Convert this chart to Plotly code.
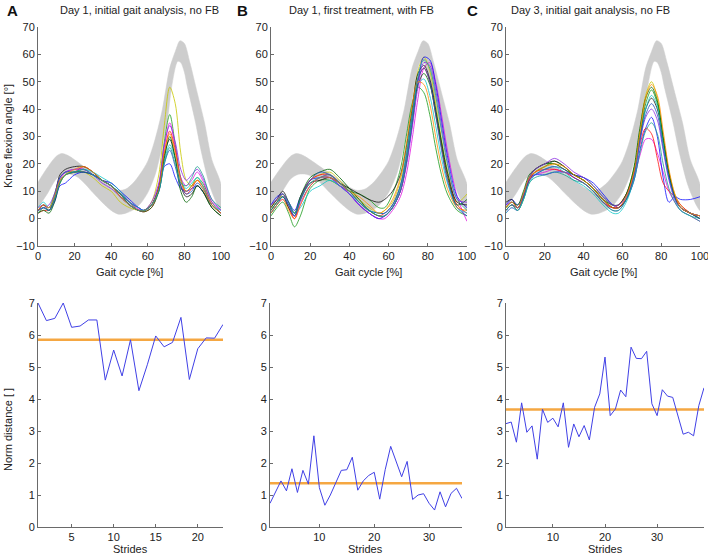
import plotly.graph_objects as go

# ---------------- data ----------------
gait_pct = [0, 3, 6, 9, 12, 15, 20, 25, 30, 35, 40, 45, 50, 55, 58, 62, 66, 69, 72, 75, 78, 81, 84, 87, 90, 95, 100]

band_x_up = [0, 5, 10, 13, 16, 20, 25, 30, 35, 40, 44, 48, 52, 56, 60, 64, 68, 72, 75, 77.6, 80, 83, 87, 91, 95, 100]
band_upper = [13.3, 18.5, 22.8, 23.8, 23.2, 21.5, 19, 16.5, 14, 11.5, 10.3, 10.8, 13, 16.5, 21, 29, 40, 55, 61, 65, 64, 57, 46, 35, 21.5, 12.5]
band_x_lo = [0, 5, 10, 14, 18, 22, 26, 30, 35, 40, 44, 48, 52, 56, 60, 64, 67, 70.7, 73, 76.3, 78, 80, 81.6, 85.8, 89.4, 94, 98.5, 100]
band_lower = [4, 9, 14.5, 16.2, 16.2, 15, 12.5, 9.5, 6, 3, 1.6, 2, 3.2, 5.5, 9.5, 16, 24, 36, 48, 57.4, 57, 53.5, 48.2, 36, 24, 11.7, 4.4, 3]

curves_A = [
    [2, 4, 3, 8, 13, 16, 17, 17, 15, 12, 10, 6, 4, 3, 3, 6, 16, 34, 48, 42, 24, 14, 12, 14, 12, 5, 2],
    [3, 5, 4, 9, 15, 17, 17, 18, 16, 14, 12, 9, 6, 3, 3, 5, 12, 28, 38, 27, 15, 10, 12, 15, 13, 6, 2],
    [4, 5, 4, 7, 14, 17, 18, 18, 16, 14, 13, 10, 6, 3.5, 3, 5, 12, 26, 35, 26, 15, 12, 14, 17, 14, 6, 3],
    [3, 4, 3, 6, 12, 13, 16, 17, 16, 14, 13, 10, 7, 4, 3, 5, 11, 19, 20, 15, 11, 10, 11, 12, 10, 5, 2],
    [2, 3, 3, 7, 14, 16, 17, 19, 17, 14, 12, 9, 5, 3, 2.5, 4, 11, 24, 32, 25, 14, 9, 11, 14, 12, 5, 2],
    [3, 5, 3, 8, 16, 18, 19, 19, 17, 14, 12, 8, 5, 3, 3, 5, 11, 23, 29, 22, 12, 8, 9, 12, 10, 4, 1],
    [4, 6, 4, 8, 14, 16, 17, 18, 17, 15, 13, 10, 6, 4, 3, 5, 10, 21, 27, 22, 14, 11, 13, 15, 12, 5, 3],
    [2, 3, 2, 6, 13, 16, 17, 17, 16, 14, 12, 9, 5, 3, 2.5, 4, 10, 22, 30, 22, 10, 6, 8, 12, 10, 4, 1],
    [3, 4, 5, 9, 15, 17, 18, 18, 16, 13, 11, 8, 5, 3, 3, 6, 13, 27, 34, 28, 18, 14, 16, 18, 15, 7, 3],
    [3, 4, 3, 7, 15, 17, 17, 17, 16, 14, 12, 9, 6, 4, 3, 5, 10, 20, 25, 19, 12, 9, 10, 13, 11, 5, 2],
    [3, 5, 4, 8, 14, 16, 18, 19, 17, 14, 12, 8, 5, 3, 3, 5, 11, 24, 31, 24, 14, 10, 12, 14, 11, 5, 2],
    [2, 4, 3, 7, 13, 16, 17, 18, 16, 14, 12, 9, 5, 3, 3, 5, 10, 20, 26, 20, 13, 12, 15, 19, 16, 7, 4],
]
curves_B = [
    [4, 7, 8, 5, 2, 8, 14, 16, 17, 14, 10, 7, 4, 2, 3, 6, 14, 25, 40, 54, 59, 54, 42, 29, 18, 6, 9],
    [1, 4, 6, 2, -3, 1, 11, 14, 14, 12, 10, 9, 7, 4, 4, 9, 18, 30, 42, 48, 46, 38, 26, 16, 9, 3, 1],
    [2, 5, 7, 4, 0, 5, 12, 15, 16, 13, 9, 5, 2, 0, 0, 3, 8, 16, 29, 44, 55, 57, 50, 38, 25, 8, -1],
    [5, 8, 9, 6, 3, 8, 14, 15, 15, 12, 9, 5, 2, 0, 1, 4, 10, 20, 34, 50, 59, 58, 49, 36, 23, 8, 4],
    [3, 6, 9, 4, 0, 7, 14, 16, 16, 13, 10, 6, 3, 1, 2, 5, 12, 23, 38, 51, 55, 50, 38, 26, 15, 5, 2],
    [4, 7, 10, 6, 2, 7, 13, 14, 15, 13, 11, 9, 7, 6, 7, 10, 16, 26, 40, 53, 56, 51, 40, 28, 17, 6, 5],
    [2, 5, 8, 5, 2, 4, 10, 12, 14, 12, 9, 6, 3, 2, 2, 5, 12, 24, 38, 49, 51, 45, 34, 22, 13, 4, 2],
    [3, 6, 8, 4, 1, 8, 15, 17, 18, 15, 11, 7, 3, 1, 1, 4, 10, 20, 35, 49, 53, 49, 39, 27, 16, 5, 7],
    [5, 7, 9, 5, 1, 6, 12, 15, 15, 12, 9, 5, 2, 0, 1, 4, 10, 19, 33, 48, 57, 56, 47, 34, 21, 7, 6],
    [2, 5, 8, 5, 1, 7, 14, 17, 16, 13, 10, 6, 3, 2, 2, 5, 12, 22, 37, 51, 55, 50, 38, 25, 14, 4, 1],
    [2, 5, 7, 3, 0, 5, 12, 15, 15, 13, 10, 8, 5, 2, 3, 7, 15, 27, 41, 50, 49, 42, 30, 19, 11, 4, 3],
    [3, 6, 9, 6, 2, 7, 13, 15, 16, 13, 10, 6, 3, 1, 1, 4, 11, 21, 36, 52, 58, 55, 45, 32, 20, 7, 3],
]
curves_C = [
    [4, 6, 4, 9, 15, 17, 19, 20, 18, 16, 14, 11, 7, 4, 4, 8, 18, 32, 45, 50, 44, 30, 17, 9, 5, 2, 0],
    [3, 5, 3, 7, 14, 17, 19, 21, 19, 16, 15, 12, 8, 5, 5, 9, 18, 30, 42, 47, 42, 29, 16, 8, 4, 2, 1],
    [2, 4, 3, 8, 14, 16, 17, 18, 17, 15, 13, 10, 6, 4, 4, 8, 15, 23, 29, 29, 24, 17, 10, 6, 3, 1, -1],
    [5, 7, 5, 9, 15, 16, 16, 17, 17, 16, 15, 13, 9, 5, 4, 7, 14, 25, 33, 37, 30, 15, 6, 8, 7, 7, 8],
    [3, 5, 4, 8, 14, 17, 18, 18, 17, 15, 13, 10, 6, 4, 5, 9, 17, 27, 33, 31, 22, 13, 10, 8, 5, 2, 0],
    [6, 7, 4, 8, 15, 18, 20, 21, 19, 16, 14, 11, 7, 4, 4, 7, 16, 29, 40, 44, 40, 28, 16, 8, 4, 2, 1],
    [2, 4, 3, 7, 13, 16, 18, 19, 17, 14, 12, 9, 5, 2, 2, 6, 15, 28, 40, 45, 41, 28, 15, 7, 3, 1, 0],
    [4, 6, 5, 10, 16, 18, 20, 20, 18, 16, 14, 11, 7, 5, 5, 9, 19, 33, 44, 48, 43, 30, 17, 8, 4, 2, 0],
    [5, 6, 4, 8, 15, 18, 20, 22, 20, 17, 15, 12, 8, 5, 5, 8, 16, 28, 37, 40, 36, 25, 14, 7, 4, 2, 1],
    [3, 5, 4, 8, 14, 16, 18, 19, 18, 15, 13, 10, 6, 3, 3, 7, 16, 29, 38, 42, 38, 26, 15, 8, 4, 2, 0],
    [4, 6, 4, 9, 15, 17, 19, 20, 19, 16, 14, 11, 7, 4, 4, 8, 17, 31, 44, 49, 45, 32, 18, 9, 4, 2, 1],
    [3, 5, 3, 7, 13, 15, 16, 17, 16, 14, 13, 10, 6, 3, 3, 7, 14, 24, 32, 35, 31, 20, 11, 6, 3, 1, -1],
]
curve_colors = ["#c8c800", "#1a9a1a", "#e010e0", "#1010ff", "#ff1010", "#111111",
                "#10c8c8", "#006400", "#8a2be2", "#2050c0", "#ff8c00", "#20a090"]

norm_A = [7.0, 6.45, 6.52, 7.0, 6.24, 6.28, 6.47, 6.47, 4.59, 5.53, 4.72, 5.85, 4.26, 5.07, 5.97,
          5.63, 5.77, 6.55, 4.61, 5.57, 5.91, 5.90, 6.33]
norm_B = [0.74, 1.1, 1.44, 1.13, 1.82, 1.08, 1.77, 1.34, 2.85, 1.23, 0.68, 1.0, 1.4, 1.77, 1.79, 2.18,
          1.15, 1.44, 1.61, 1.71, 0.87, 1.79, 2.52, 2.05, 1.57, 2.05, 0.86, 1.0, 1.04, 0.74, 0.53, 1.1,
          0.63, 1.05, 1.21, 0.89]
norm_C = [3.23, 3.28, 2.65, 3.88, 2.96, 3.16, 2.12, 3.68, 3.27, 3.40, 3.13, 3.88, 2.49, 3.22, 2.82,
          3.17, 2.72, 3.74, 4.16, 5.31, 3.48, 3.69, 4.28, 4.07, 5.62, 5.27, 5.26, 5.49, 3.85, 3.48,
          4.29, 4.09, 4.05, 3.43, 2.90, 2.96, 2.85, 3.79, 4.35]
mean_A, mean_B, mean_C = 5.85, 1.37, 3.67

titles = ["Day 1, initial gait analysis, no FB", "Day 1, first treatment, with FB", "Day 3, initial gait analysis, no FB"]
letters = ["A", "B", "C"]
stride_ticks = [[5, 10, 15, 20], [10, 20, 30], [10, 20, 30]]

# ---------------- figure ----------------
W, H = 708, 554
FONT = "Liberation Sans, Arial, sans-serif"
fig = go.Figure()

def px_x(a, b):
    return [a / W, b / W]

def px_y(top, bottom):
    return [1 - bottom / H, 1 - top / H]

top_dom_x = [px_x(38, 221), px_x(271, 467), px_x(506, 700)]
bot_dom_x = [px_x(38, 223), px_x(270, 462), px_x(506, 704)]
top_dom_y = px_y(27, 246)
bot_dom_y = px_y(303, 527)

band_poly_x = band_x_up + band_x_lo[::-1]
band_poly_y = band_upper + band_lower[::-1]

axis_common = dict(showgrid=False, zeroline=False, showline=True, linecolor="#6a6a6a", linewidth=1,
                   ticks="inside", ticklen=3, tickcolor="#6a6a6a", mirror=False,
                   tickfont=dict(family=FONT, size=11, color="#222"), automargin=False,
                   ticklabeloverflow="allow")

for i, curves in enumerate([curves_A, curves_B, curves_C]):
    xa = "x" if i == 0 else f"x{i+1}"
    ya = "y" if i == 0 else f"y{i+1}"
    fig.add_trace(go.Scatter(x=band_poly_x, y=band_poly_y, fill="toself", fillcolor="#cdcdcd",
                             line=dict(color="#cdcdcd", width=0.5, shape="spline", smoothing=0.8),
                             mode="lines", xaxis=xa, yaxis=ya, showlegend=False, hoverinfo="skip"))
    for j, c in enumerate(curves):
        fig.add_trace(go.Scatter(x=gait_pct, y=c, mode="lines",
                                 line=dict(color=curve_colors[j % len(curve_colors)], width=0.8,
                                           shape="spline", smoothing=0.9),
                                 xaxis=xa, yaxis=ya, showlegend=False))

for i, (vals, m) in enumerate([(norm_A, mean_A), (norm_B, mean_B), (norm_C, mean_C)]):
    xa = f"x{i+4}"
    ya = f"y{i+4}"
    strides = list(range(1, len(vals) + 1))
    fig.add_trace(go.Scatter(x=[1, len(vals)], y=[m, m], mode="lines",
                             line=dict(color="#f5a742", width=2.5), xaxis=xa, yaxis=ya, showlegend=False))
    fig.add_trace(go.Scatter(x=strides, y=vals, mode="lines",
                             line=dict(color="#4040e6", width=1), xaxis=xa, yaxis=ya, showlegend=False))

layout = dict(width=W, height=H, margin=dict(l=0, r=0, t=0, b=0),
              paper_bgcolor="white", plot_bgcolor="white", showlegend=False,
              font=dict(family=FONT, size=11, color="#222"))
for i in range(3):
    k = "" if i == 0 else str(i + 1)
    layout[f"xaxis{k}"] = dict(axis_common, domain=top_dom_x[i], range=[0, 100], tickvals=[0, 20, 40, 60, 80, 100],
                               anchor=f"y{k}")
    layout[f"yaxis{k}"] = dict(axis_common, domain=top_dom_y, range=[-10, 70],
                               tickvals=[-10, 0, 10, 20, 30, 40, 50, 60, 70], anchor=f"x{k}")
    n = [len(norm_A), len(norm_B), len(norm_C)][i]
    layout[f"xaxis{i+4}"] = dict(axis_common, domain=bot_dom_x[i], range=[1, n], tickvals=stride_ticks[i],
                                 anchor=f"y{i+4}")
    layout[f"yaxis{i+4}"] = dict(axis_common, domain=bot_dom_y, range=[0, 7], tickvals=list(range(8)),
                                 anchor=f"x{i+4}")
fig.update_layout(**layout)

ann = []
title_cx = [139, 361, 590]
letter_x = [12, 242, 472]
for i in range(3):
    ann.append(dict(text=titles[i], x=title_cx[i] / W, y=1 - 10 / H, xref="paper", yref="paper",
                    showarrow=False, font=dict(family=FONT, size=11, color="#222"), xanchor="center", yanchor="middle"))
    ann.append(dict(text="<b>" + letters[i] + "</b>", x=letter_x[i] / W, y=1 - 11 / H, xref="paper", yref="paper",
                    showarrow=False, font=dict(family=FONT, size=15, color="#111"), xanchor="center", yanchor="middle"))
    cx_top = (top_dom_x[i][0] + top_dom_x[i][1]) / 2
    cx_bot = (bot_dom_x[i][0] + bot_dom_x[i][1]) / 2
    ann.append(dict(text="Gait cycle [%]", x=cx_top, y=1 - 272 / H, xref="paper", yref="paper",
                    showarrow=False, font=dict(family=FONT, size=11, color="#222"), xanchor="center", yanchor="middle"))
    ann.append(dict(text="Strides", x=cx_bot, y=1 - 548.5 / H, xref="paper", yref="paper",
                    showarrow=False, font=dict(family=FONT, size=11, color="#222"), xanchor="center", yanchor="middle"))
ann.append(dict(text="Knee flexion angle [°]", x=8 / W, y=1 - 136 / H, xref="paper", yref="paper", textangle=-90,
                showarrow=False, font=dict(family=FONT, size=11, color="#222"), xanchor="center", yanchor="middle"))
ann.append(dict(text="Norm distance [ ]", x=8 / W, y=1 - 430 / H, xref="paper", yref="paper", textangle=-90,
                showarrow=False, font=dict(family=FONT, size=11, color="#222"), xanchor="center", yanchor="middle"))
fig.update_layout(annotations=ann)

fig.write_html("out.html", config={"displayModeBar": False},
               post_script="document.body.style.margin='0';document.body.style.padding='0';")
